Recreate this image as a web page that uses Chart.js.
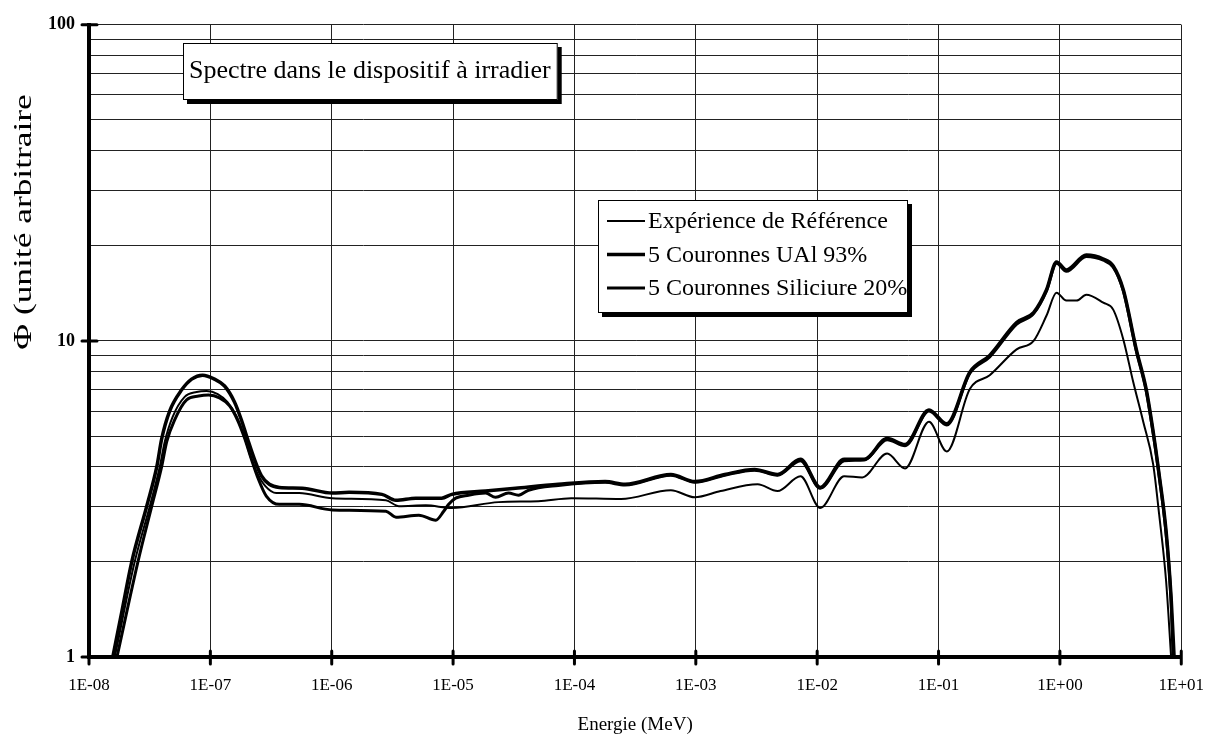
<!DOCTYPE html>
<html lang="fr">
<head>
<meta charset="utf-8">
<title>Spectre dans le dispositif à irradier</title>
<script src="https://cdn.jsdelivr.net/npm/chart.js@4.4.1/dist/chart.umd.min.js"></script>
<style>
  html, body { margin: 0; padding: 0; background: #fff; }
  canvas { display: block; }
</style>
</head>
<body>
<canvas id="spectre" width="1222" height="742"></canvas>
<script>
// Energies in MeV, flux in arbitrary units
const energyRef = [1.63e-8, 2.38e-8, 3.17e-8, 3.83e-8, 4.21e-8, 4.89e-8, 6.14e-8, 7.70e-8, 9.31e-8, 1.15e-7,
  1.38e-7, 1.64e-7, 1.87e-7, 2.14e-7, 2.44e-7, 2.84e-7, 3.49e-7, 5.40e-7, 1.01e-6, 2.80e-6,
  3.58e-6, 5.96e-6, 9.74e-6, 2.37e-5, 5.04e-5, 9.41e-5, 2.42e-4, 6.23e-4, 9.81e-4, 1.60e-3,
  3.23e-3, 4.71e-3, 7.28e-3, 1.06e-2, 1.67e-2, 2.35e-2, 3.77e-2, 5.30e-2, 8.34e-2, 0.117,
  0.181, 0.264, 0.440, 0.607, 0.776, 0.938, 1.13, 1.37, 1.65, 2.28,
  2.75, 3.33, 4.02, 4.86, 5.87, 6.57, 7.50, 8.25];
const fluxRef = [1.0, 2.0, 3.0, 4.0, 4.8, 5.75, 6.65, 6.89, 6.94, 6.79,
  6.41, 5.79, 5.09, 4.31, 3.81, 3.47, 3.30, 3.30, 3.18, 3.13,
  3.00, 3.02, 2.96, 3.09, 3.11, 3.18, 3.16, 3.37, 3.20, 3.35,
  3.52, 3.35, 3.73, 2.96, 3.73, 3.70, 4.40, 3.95, 5.55, 4.47,
  7.04, 7.79, 9.40, 10.0, 12.03, 14.20, 13.41, 13.41, 14.0, 13.21,
  12.56, 10.11, 7.41, 5.55, 4.07, 2.83, 1.74, 1.0];

const energyUAl = [1.57e-8, 1.87e-8, 2.25e-8, 2.99e-8, 3.62e-8, 3.97e-8, 4.62e-8, 5.80e-8, 7.01e-8, 8.63e-8,
  1.08e-7, 1.31e-7, 1.58e-7, 1.80e-7, 2.02e-7, 2.31e-7, 2.63e-7, 3.06e-7, 3.70e-7, 5.71e-7,
  1.01e-6, 1.39e-6, 2.59e-6, 3.38e-6, 4.93e-6, 8.06e-6, 9.74e-6, 1.85e-5, 3.27e-5, 7.36e-5,
  1.79e-4, 2.61e-4, 6.23e-4, 9.81e-4, 1.73e-3, 3.05e-3, 4.71e-3, 7.28e-3, 1.06e-2, 1.67e-2,
  2.44e-2, 3.77e-2, 5.30e-2, 8.34e-2, 0.117, 0.181, 0.264, 0.440, 0.607, 0.776,
  0.938, 1.13, 1.65, 2.28, 2.75, 3.33, 4.26, 5.14, 5.87, 6.57,
  7.50, 8.25, 8.73];
const fluxUAl = [1.0, 1.40, 2.0, 3.0, 4.0, 4.9, 6.0, 7.0, 7.57, 7.79,
  7.57, 7.2, 6.41, 5.63, 4.91, 4.22, 3.75, 3.52, 3.44, 3.42,
  3.30, 3.32, 3.27, 3.13, 3.18, 3.18, 3.27, 3.35, 3.42, 3.52,
  3.59, 3.52, 3.78, 3.59, 3.78, 3.92, 3.78, 4.22, 3.44, 4.22,
  4.22, 4.91, 4.70, 6.05, 5.47, 7.96, 9.00, 11.43, 12.29, 14.51,
  17.77, 16.77, 18.69, 18.16, 17.26, 14.51, 9.40, 7.04, 5.16, 3.78,
  2.50, 1.54, 1.0];

const energySil = [1.70e-8, 2.53e-8, 3.29e-8, 3.97e-8, 4.37e-8, 5.08e-8, 6.37e-8, 8.00e-8, 9.66e-8, 1.19e-7,
  1.44e-7, 1.67e-7, 1.91e-7, 2.18e-7, 2.49e-7, 2.89e-7, 3.70e-7, 5.40e-7, 1.01e-6, 2.80e-6,
  3.38e-6, 5.22e-6, 7.20e-6, 8.37e-6, 9.20e-6, 1.05e-5, 1.34e-5, 1.85e-5, 2.24e-5, 2.86e-5,
  3.46e-5, 4.18e-5, 7.36e-5, 1.79e-4, 2.61e-4, 6.23e-4, 9.81e-4, 1.73e-3, 3.05e-3, 4.71e-3,
  7.28e-3, 1.06e-2, 1.67e-2, 2.44e-2, 3.77e-2, 5.30e-2, 8.34e-2, 0.117, 0.181, 0.264,
  0.440, 0.607, 0.776, 0.938, 1.13, 1.65, 2.28, 2.75, 3.33, 4.26,
  5.14, 5.87, 6.57, 7.50, 8.25, 8.56];
const fluxSil = [1.0, 2.0, 3.0, 4.0, 4.8, 5.63, 6.51, 6.69, 6.74, 6.60,
  6.23, 5.63, 4.94, 4.22, 3.65, 3.23, 3.04, 3.04, 2.92, 2.89,
  2.77, 2.81, 2.71, 2.89, 3.04, 3.18, 3.25, 3.30, 3.20, 3.30,
  3.25, 3.37, 3.49, 3.57, 3.50, 3.76, 3.57, 3.76, 3.90, 3.76,
  4.18, 3.42, 4.18, 4.20, 4.87, 4.66, 6.0, 5.42, 7.9, 8.9,
  11.3, 12.2, 14.4, 17.6, 16.6, 18.5, 18.0, 17.1, 14.4, 9.3,
  6.95, 5.1, 3.75, 2.45, 1.5, 1.0];

const seriesNames = ['Expérience de Référence', '5 Couronnes UAl 93%', '5 Couronnes Siliciure 20%'];

const xTickValues = [1e-8, 1e-7, 1e-6, 1e-5, 1e-4, 1e-3, 1e-2, 1e-1, 1, 10];
const xTickLabels = ['1E-08', '1E-07', '1E-06', '1E-05', '1E-04', '1E-03', '1E-02', '1E-01', '1E+00', '1E+01'];
const yGridValues = [1, 2, 3, 4, 5, 6, 7, 8, 9, 10, 20, 30, 40, 50, 60, 70, 80, 90, 100];
const yTickValues = [1, 10, 100];
const yTickLabels = ['1', '10', '100'];

const chartTitle = 'Spectre dans le dispositif à irradier';
const xAxisTitle = 'Energie (MeV)';
const yAxisTitle = 'Φ (unité arbitraire';

const SERIF = "'Liberation Serif', 'Times New Roman', serif";

function toPoints(xs, ys) {
  return xs.map((e, i) => ({ x: e, y: ys[i] }));
}

// Boxes, crossing tick marks and the vertical axis title
const decorations = {
  id: 'decorations',
  afterDraw(chart) {
    const { ctx, chartArea, scales } = chart;
    const xs = scales.x, ys = scales.y;
    ctx.save();

    // tick marks crossing both axes
    ctx.strokeStyle = '#000';
    ctx.lineWidth = 3;
    ctx.lineCap = 'round';
    xTickValues.forEach(v => {
      const px = xs.getPixelForValue(v);
      ctx.beginPath();
      ctx.moveTo(px, chartArea.bottom - 6);
      ctx.lineTo(px, chartArea.bottom + 7);
      ctx.stroke();
    });
    yTickValues.forEach(v => {
      const py = ys.getPixelForValue(v);
      ctx.beginPath();
      ctx.moveTo(chartArea.left - 7, py);
      ctx.lineTo(chartArea.left + 8, py);
      ctx.stroke();
    });
    ctx.lineCap = 'butt';

    function shadowBox(x, y, w, h) {
      ctx.fillStyle = '#000';
      ctx.fillRect(x + 4, y + 4, w, h);
      ctx.fillStyle = '#fff';
      ctx.fillRect(x, y, w, h);
      ctx.strokeStyle = '#000';
      ctx.lineWidth = 1;
      ctx.strokeRect(x + 0.5, y + 0.5, w - 1, h - 1);
    }

    // title box
    ctx.font = '26px ' + SERIF;
    const tw = ctx.measureText(chartTitle).width;
    shadowBox(183, 43, tw + 13, 57);
    ctx.fillStyle = '#000';
    ctx.textAlign = 'left';
    ctx.textBaseline = 'middle';
    ctx.fillText(chartTitle, 189, 71);

    // legend box
    shadowBox(598, 200, 310, 113);
    ctx.font = '24px ' + SERIF;
    chart.data.datasets.forEach((ds, i) => {
      const cy = 221 + i * 33.5;
      ctx.strokeStyle = '#000';
      ctx.lineWidth = ds.borderWidth;
      ctx.beginPath();
      ctx.moveTo(607, cy);
      ctx.lineTo(645, cy);
      ctx.stroke();
      ctx.fillStyle = '#000';
      ctx.fillText(ds.label, 648, cy + 1);
    });

    // vertical axis title, drawn with the tall narrow lettering of the axis
    ctx.translate(24, 222);
    ctx.rotate(-Math.PI / 2);
    ctx.scale(1.36, 1);
    ctx.font = '26px ' + SERIF;
    ctx.textAlign = 'center';
    ctx.textBaseline = 'middle';
    ctx.fillStyle = '#000';
    ctx.fillText(yAxisTitle, 0, 0);

    ctx.restore();
  }
};

new Chart(document.getElementById('spectre'), {
  type: 'line',
  data: {
    datasets: [
      { label: seriesNames[0], data: toPoints(energyRef, fluxRef), borderColor: '#000', borderWidth: 2 },
      { label: seriesNames[1], data: toPoints(energyUAl, fluxUAl), borderColor: '#000', borderWidth: 3.5 },
      { label: seriesNames[2], data: toPoints(energySil, fluxSil), borderColor: '#000', borderWidth: 3 }
    ]
  },
  options: {
    responsive: false,
    animation: false,
    layout: { padding: { top: 20, right: 37, left: 0, bottom: 0 } },
    elements: {
      point: { radius: 0 },
      line: { cubicInterpolationMode: 'monotone', fill: false }
    },
    plugins: {
      legend: { display: false },
      tooltip: { enabled: false }
    },
    scales: {
      x: {
        type: 'logarithmic',
        min: 1e-8,
        max: 10,
        afterFit(scale) { scale.height = 85; },
        afterBuildTicks(scale) { scale.ticks = xTickValues.map(v => ({ value: v })); },
        ticks: {
          autoSkip: false,
          maxRotation: 0,
          padding: 18,
          color: '#000',
          font: { family: SERIF, size: 17 },
          callback: (v, i) => xTickLabels[i]
        },
        grid: { color: '#222', lineWidth: 1, drawTicks: false },
        border: { color: '#000', width: 4 },
        title: {
          display: true,
          text: xAxisTitle,
          color: '#000',
          font: { family: SERIF, size: 19 },
          padding: { top: 0, bottom: 6 }
        }
      },
      y: {
        type: 'logarithmic',
        min: 1,
        max: 100,
        afterFit(scale) { scale.width = 89; },
        afterBuildTicks(scale) { scale.ticks = yGridValues.map(v => ({ value: v })); },
        ticks: {
          autoSkip: false,
          padding: 14,
          color: '#000',
          font: { family: SERIF, size: 18, weight: 'bold' },
          callback: (v) => {
            const k = yTickValues.indexOf(v);
            return k >= 0 ? yTickLabels[k] : '';
          }
        },
        grid: { color: '#222', lineWidth: 1, drawTicks: false },
        border: { color: '#000', width: 4 }
      }
    }
  },
  plugins: [decorations]
});
</script>
</body>
</html>
